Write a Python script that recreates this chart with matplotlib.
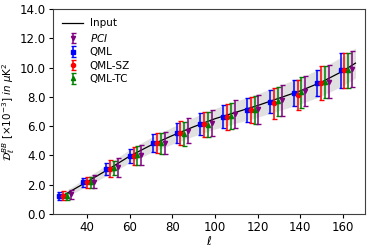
import numpy as np
import matplotlib
matplotlib.use("Agg")
import matplotlib.pyplot as plt

# bin centres
ell_bins = [27, 38, 49, 60, 71, 82, 93, 104, 115, 126, 137, 148, 159]
offsets = {"QML": 0.0, "QML-SZ": 1.8, "QML-TC": 3.6, "PCI": 5.4}

qml = [1.23, 2.15, 3.06, 3.97, 4.84, 5.50, 6.12, 6.64, 7.10, 7.67, 8.25, 8.93, 9.80]
qml_err = [0.25, 0.33, 0.40, 0.48, 0.60, 0.68, 0.74, 0.78, 0.80, 0.80, 0.90, 0.90, 1.20]
qml_sz = [1.23, 2.15, 3.10, 3.97, 4.84, 5.55, 6.12, 6.64, 7.10, 7.56, 8.13, 8.93, 9.80]
qml_sz_err = [0.30, 0.40, 0.57, 0.60, 0.70, 0.82, 0.85, 0.88, 0.90, 1.05, 1.05, 1.14, 1.20]
qml_tc = [1.20, 2.15, 3.13, 4.00, 4.82, 5.45, 6.10, 6.70, 7.10, 7.70, 8.30, 9.00, 9.80]
qml_tc_err = [0.25, 0.38, 0.50, 0.65, 0.70, 0.80, 0.85, 0.90, 0.95, 1.00, 1.05, 1.10, 1.18]
pci = [1.33, 2.20, 3.18, 4.00, 4.82, 5.69, 6.23, 6.80, 7.15, 7.76, 8.40, 9.04, 9.91]
pci_err = [0.30, 0.45, 0.65, 0.68, 0.75, 0.85, 0.90, 0.95, 1.00, 1.05, 1.05, 1.14, 1.25]

# input spectrum
ell_in = [28, 40, 50, 60, 70, 80, 90, 100, 110, 120, 130, 140, 150, 160, 166]
d_in = [1.20, 2.20, 3.05, 3.95, 4.70, 5.35, 5.95, 6.50, 6.95, 7.40, 7.90, 8.40, 9.00, 9.75, 10.30]
band_hw = [0.20, 0.30, 0.38, 0.45, 0.52, 0.58, 0.64, 0.70, 0.75, 0.80, 0.85, 0.90, 0.95, 1.00, 1.03]

yticks = [0.0, 2.0, 4.0, 6.0, 8.0, 10.0, 12.0, 14.0]
xticks = [40, 60, 80, 100, 120, 140, 160]

plt.rcParams['font.family'] = ['DejaVu Sans']
plt.rcParams['mathtext.fontset'] = 'dejavusans'
fig = plt.figure(figsize=(3.74, 2.49), dpi=100)
ax = fig.add_axes([0.142, 0.141, 0.834, 0.823])

ell_in_a = np.array(ell_in)
d_in_a = np.array(d_in)
hw = np.array(band_hw)
ax.fill_between(ell_in_a, d_in_a - hw, d_in_a + hw, color='0.85', alpha=0.8, lw=0)
ax.plot(ell_in_a, d_in_a, color='black', lw=0.9, label='Input')

eb = np.array(ell_bins, dtype=float)
series = [
    ("QML", qml, qml_err, 'blue', 's', 3.5),
    ("QML-SZ", qml_sz, qml_sz_err, 'red', 'o', 3.0),
    ("QML-TC", qml_tc, qml_tc_err, 'green', '^', 3.0),
    ("PCI", pci, pci_err, 'purple', 'v', 3.0),
]
for name, v, e, c, m, ms in series:
    ax.errorbar(eb + offsets[name], v, yerr=e, fmt=m, color=c, ms=ms,
                capsize=1.8, elinewidth=1.1, capthick=1.0,
                label=r'$PCI$' if name == 'PCI' else name)

hl, ll = ax.get_legend_handles_labels()
order = ['Input', r'$PCI$', 'QML', 'QML-SZ', 'QML-TC']
idx = [ll.index(o) for o in order]
ax.legend([hl[i] for i in idx], [ll[i] for i in idx], loc='upper left',
          frameon=False, fontsize=7.5, handlelength=2.0, borderaxespad=0.5,
          labelspacing=0.33, handletextpad=0.6)

ax.set_xlim(24, 170.5)
ax.set_ylim(0, 14)
ax.set_xticks(xticks)
ax.set_yticks(yticks)
ax.set_yticklabels([f"{t:.1f}" for t in yticks])
ax.tick_params(labelsize=8.5, length=3, width=0.8, pad=2)
for s in ax.spines.values():
    s.set_color('0.25')
    s.set_linewidth(0.8)
ax.set_xlabel(r'$\ell$', fontsize=8.5, labelpad=1)
ax.set_ylabel(r'$\mathcal{D}_\ell^{BB}\ [\times10^{-3}]\ in\ \mu\mathrm{K}^2$', fontsize=7.5, labelpad=2)

fig.savefig('out.png', dpi=100)
